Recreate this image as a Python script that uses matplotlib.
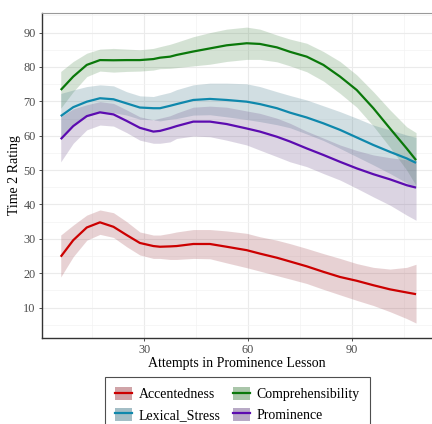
import matplotlib
matplotlib.use("Agg")
import matplotlib.pyplot as plt
from matplotlib.lines import Line2D
from matplotlib.patches import Patch
from matplotlib.ticker import MultipleLocator

# ---- data ----
attempts = [6, 9.6, 13.5, 17.3, 21.2, 25, 28.8, 32.7, 34.6, 37.5, 39.4, 44.2, 49,
            53.8, 59.6, 63.4, 68.3, 72.1, 76.9, 81.7, 86.5, 91.3, 96.1, 100.9, 105.7, 108.4]

accent_fit = [24.8, 29.6, 33.3, 34.8, 33.5, 31.1, 28.8, 27.9, 27.7, 27.8, 27.9, 28.5, 28.5,
              27.7, 26.7, 25.7, 24.5, 23.4, 22.0, 20.4, 18.9, 17.8, 16.5, 15.3, 14.4, 13.9]
accent_hi = [31.1, 34.0, 36.9, 38.4, 37.6, 35.0, 32.0, 31.1, 31.1, 31.6, 32.0, 32.7, 32.7,
             32.3, 31.6, 30.6, 29.6, 28.6, 27.2, 25.7, 24.3, 22.8, 21.7, 21.2, 21.7, 22.6]
accent_lo = [18.9, 24.8, 29.6, 31.3, 30.4, 27.7, 25.3, 24.3, 24.3, 24.0, 24.0, 24.3, 24.2,
             23.0, 21.6, 20.6, 19.3, 18.3, 17.0, 15.3, 13.7, 12.1, 10.6, 8.8, 6.8, 5.5]

compre_fit = [73.3, 77.2, 80.6, 82.0, 81.95, 82.0, 82.0, 82.3, 82.7, 83.0, 83.5, 84.5, 85.4,
              86.3, 86.9, 86.7, 85.7, 84.4, 83.0, 80.6, 77.2, 73.3, 68.0, 62.1, 56.3, 52.9]
compre_hi = [78.7, 81.6, 84.0, 85.2, 85.4, 85.2, 85.0, 85.4, 85.9, 86.6, 87.2, 88.8, 90.0,
             91.0, 91.6, 91.0, 89.3, 88.1, 86.9, 84.5, 81.6, 77.7, 72.8, 67.5, 62.6, 60.9]
compre_lo = [68.0, 72.8, 77.2, 78.8, 78.5, 78.7, 78.8, 79.1, 79.5, 79.6, 79.8, 80.3, 80.8,
             81.6, 82.2, 82.2, 81.5, 80.3, 78.6, 75.9, 72.3, 68.3, 62.8, 56.6, 50.0, 45.5]

lexical_fit = [65.7, 68.3, 69.9, 70.9, 70.6, 69.4, 68.2, 68.0, 68.0, 68.7, 69.2, 70.4, 70.7,
               70.4, 69.9, 69.2, 68.0, 66.7, 65.3, 63.6, 61.7, 59.5, 57.3, 55.3, 53.4, 52.1]
lexical_hi = [72.3, 73.3, 74.3, 74.8, 74.5, 72.8, 71.6, 71.4, 71.9, 72.6, 73.4, 74.8, 75.3,
              75.3, 75.1, 74.3, 72.8, 71.7, 70.4, 68.7, 67.0, 65.1, 63.1, 61.7, 60.2, 59.5]
lexical_lo = [59.1, 63.3, 65.5, 67.0, 66.7, 66.0, 64.8, 64.6, 64.3, 64.8, 65.0, 66.0, 66.1,
              65.5, 64.7, 64.1, 63.2, 62.3, 60.5, 58.6, 56.3, 53.9, 51.5, 49.0, 46.3, 44.7]

promin_fit = [59.0, 62.8, 65.7, 66.8, 66.2, 64.3, 62.3, 61.2, 61.4, 62.2, 62.8, 64.1, 64.1,
              63.4, 62.1, 61.2, 59.7, 58.3, 56.3, 54.4, 52.4, 50.5, 48.8, 47.3, 45.6, 44.9]
promin_hi = [65.5, 67.8, 69.0, 69.9, 69.4, 67.5, 65.5, 64.6, 65.1, 65.8, 66.6, 68.3, 68.6,
             68.3, 67.2, 66.5, 65.1, 63.6, 61.3, 59.3, 57.3, 55.7, 54.4, 53.6, 53.0, 52.9]
promin_lo = [52.4, 57.8, 61.7, 63.1, 62.8, 60.9, 58.7, 57.8, 57.8, 58.2, 59.2, 59.9, 59.7,
             58.7, 57.3, 55.8, 53.9, 52.4, 51.0, 49.0, 47.1, 44.7, 42.2, 39.8, 36.9, 35.4]

series_names = ["Accentedness", "Comprehensibility", "Lexical_Stress", "Prominence"]
x_ticks = [30, 60, 90]
y_ticks = [10, 20, 30, 40, 50, 60, 70, 80, 90]

# ---- styles ----
line_colors = {"Accentedness": "#cc0000", "Comprehensibility": "#0a780a",
               "Lexical_Stress": "#0f88ac", "Prominence": "#5c0cb0"}
fill_colors = {"Accentedness": "#a34b53", "Comprehensibility": "#578f57",
               "Lexical_Stress": "#4b7f8f", "Prominence": "#73578f"}
series = {
    "Accentedness": (accent_fit, accent_lo, accent_hi),
    "Comprehensibility": (compre_fit, compre_lo, compre_hi),
    "Lexical_Stress": (lexical_fit, lexical_lo, lexical_hi),
    "Prominence": (promin_fit, promin_lo, promin_hi),
}

plt.rcParams["font.family"] = ["Liberation Serif", "DejaVu Serif"]

fig = plt.figure(figsize=(4.32, 4.24), dpi=100)
ax = fig.add_axes([42 / 432, 1 - 338 / 424, 1 - 42 / 432, (338 - 13) / 424])

for name in series_names:
    fit, lo, hi = series[name]
    ax.fill_between(attempts, lo, hi, color=fill_colors[name], alpha=0.25, linewidth=0, zorder=2)
for name in series_names:
    fit, lo, hi = series[name]
    ax.plot(attempts, fit, color=line_colors[name], lw=1.6, zorder=3,
            solid_capstyle="butt", solid_joinstyle="round")

ax.set_xlim(0.6, 113)
ax.set_ylim(1.15, 95.7)
ax.set_xticks(x_ticks)
ax.set_yticks(y_ticks)
ax.xaxis.set_minor_locator(MultipleLocator(15))
ax.yaxis.set_minor_locator(MultipleLocator(5))
ax.grid(which="major", color="#ebebeb", lw=0.8, zorder=0)
ax.grid(which="minor", color="#f3f3f3", lw=0.5, zorder=0)
ax.set_axisbelow(True)
ax.tick_params(which="minor", length=0)
ax.tick_params(which="major", length=2.5, width=0.6, color="#333333",
               labelsize=8.8, labelcolor="#4d4d4d", pad=2)

for s in ["left", "bottom"]:
    ax.spines[s].set_color("#333333")
    ax.spines[s].set_linewidth(1.0)
ax.spines["top"].set_color("#9a9a9a")
ax.spines["top"].set_linewidth(0.8)
ax.spines["right"].set_visible(False)

ax.set_xlabel("Attempts in Prominence Lesson", fontsize=10, labelpad=0.5)
ax.set_ylabel("Time 2 Rating", fontsize=10, labelpad=2)

handles = []
labels = []
for name in ["Accentedness", "Lexical_Stress", "Comprehensibility", "Prominence"]:
    handles.append((Patch(facecolor=fill_colors[name], alpha=0.5, edgecolor="none"),
                    Line2D([], [], color=line_colors[name], lw=1.6)))
    labels.append(name)

leg = fig.legend(handles, labels, loc="upper center", ncol=2,
                 bbox_to_anchor=(237.5 / 432, 1 - 376.5 / 424),
                 frameon=True, fancybox=False, edgecolor="#222222",
                 fontsize=10, handlelength=1.25, handleheight=1.1,
                 handletextpad=0.45, columnspacing=0.9, labelspacing=0.45,
                 borderpad=0.75, borderaxespad=0)
leg.get_frame().set_linewidth(0.8)

fig.savefig("out.png", dpi=100)
